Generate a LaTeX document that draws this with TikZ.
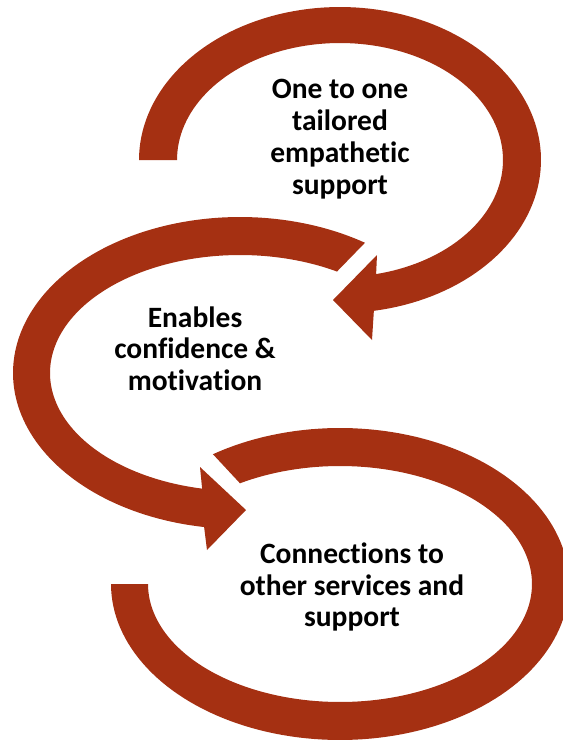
\documentclass[tikz,border=0pt]{standalone}
\usepackage{fontspec}
\setmainfont{Carlito}[Ligatures={NoCommon}]
\definecolor{rust}{RGB}{165,48,18}
\begin{document}
\begin{tikzpicture}[x=1pt,y=-1pt,
  arrowfill/.style={fill=rust,draw=none},
  lbl/.style={font=\bfseries\fontsize{29.5}{32}\selectfont,text=black,inner sep=0pt,anchor=base}]
\useasboundingbox (0,0) rectangle (563,740);
\clip (0,0) rectangle (563,740);
% Arrow 1 (top)
\fill[arrowfill] plot[domain=180:-80.3,samples=120] ({340+201*cos(\x)},{160-153*sin(\x)})
  -- (372,340) -- (333,300) -- (377,255)
  -- plot[domain=-77.2:180,samples=120] ({340+163*cos(\x)},{160-117*sin(\x)}) -- cycle;
% Arrow 2 (middle)
\fill[arrowfill] plot[domain=56.6:260.9,samples=120] ({240+227*cos(\x)},{373-156*sin(\x)})
  -- (207,550) -- (246,510) -- (200,467)
  -- plot[domain=258.5:59.3,samples=120] ({240+190*cos(\x)},{373-118*sin(\x)}) -- cycle;
% Arrow 3 (bottom)
\fill[arrowfill] plot[domain=123.7:-180,samples=150] ({340+229*cos(\x)},{584-156*sin(\x)})
  -- plot[domain=-180:121.4,samples=150] ({340+192*cos(\x)},{584-118*sin(\x)}) -- cycle;
% Labels
\node[lbl] (a1) at (340,98) {One to one};
\node[lbl] (a2) at (340,130) {tailored};
\node[lbl] (a3) at (340,162) {empathetic};
\node[lbl] (a4) at (340,194) {support};
\node[lbl] (b1) at (195,327) {Enables};
\node[lbl] (b2) at (195,358) {confidence \&};
\node[lbl] (b3) at (195,390) {motivation};
\node[lbl] (c1) at (352,563) {Connections to};
\node[lbl] (c2) at (352,595) {other services and};
\node[lbl] (c3) at (352,626) {support};
\end{tikzpicture}
\end{document}
